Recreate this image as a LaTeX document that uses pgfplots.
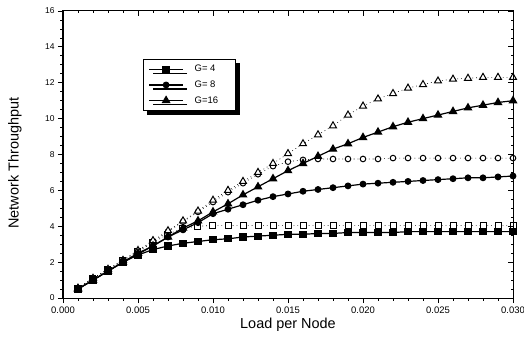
\documentclass[border=0pt]{standalone}
\usepackage{pgfplots}
\usepackage{pgfplotstable}
\pgfplotsset{compat=1.18}
\usepackage{fontspec}
\setmainfont{Liberation Sans}
\usetikzlibrary{shadows}

\pgfplotstableread{
x      gfa  goa   gfb  gob   gfc   goc
0.001  0.5  0.55  0.5  0.55  0.5   0.55
0.002  1.0  1.1   1.0  1.1   1.0   1.1
0.003  1.5  1.6   1.5  1.6   1.5   1.6
0.004  2.0  2.1   2.0  2.1   2.0   2.1
0.005  2.4  2.6   2.45 2.6   2.5   2.65
0.006  2.7  3.1   2.9  3.15  2.9   3.2
0.007  2.9  3.55  3.4  3.7   3.4   3.75
0.008  3.05 3.9   3.8  4.25  3.9   4.3
0.009  3.15 4.0   4.2  4.8   4.3   4.85
0.010  3.25 4.05  4.7  5.35  4.8   5.45
0.011  3.3  4.05  4.95 5.9   5.25  6.0
0.012  3.4  4.05  5.2  6.4   5.75  6.5
0.013  3.45 4.05  5.45 6.9   6.2   7.0
0.014  3.5  4.05  5.65 7.35  6.65  7.5
0.015  3.55 4.05  5.8  7.6   7.1   8.05
0.016  3.55 4.05  5.95 7.7   7.5   8.6
0.017  3.6  4.05  6.05 7.75  7.9   9.1
0.018  3.6  4.05  6.15 7.75  8.3   9.6
0.019  3.65 4.05  6.25 7.75  8.6   10.2
0.020  3.65 4.05  6.35 7.75  8.95  10.7
0.021  3.65 4.05  6.4  7.75  9.25  11.1
0.022  3.65 4.05  6.45 7.8   9.55  11.4
0.023  3.7  4.05  6.5  7.8   9.8   11.7
0.024  3.7  4.05  6.55 7.8   10.0  11.9
0.025  3.7  4.05  6.6  7.8   10.2  12.1
0.026  3.7  4.05  6.65 7.8   10.4  12.2
0.027  3.7  4.05  6.7  7.8   10.6  12.25
0.028  3.7  4.05  6.7  7.8   10.75 12.3
0.029  3.7  4.05  6.75 7.8   10.9  12.3
0.030  3.7  4.05  6.8  7.8   11.0  12.3
}\data

\begin{document}
\begin{tikzpicture}
\useasboundingbox (-63bp,-44bp) rectangle (461bp,298bp);
\pgfplotsset{
  myaxis/.style={
    scale only axis, width=450bp, height=287bp,
    xmin=0, xmax=0.030, ymin=0, ymax=16,
    xtick={0,0.005,...,0.030}, ytick={0,2,...,16},
    minor x tick num=4, minor y tick num=3,
    major tick length=5bp, minor tick length=2.5bp,
    axis line style={line width=1bp},
    every tick/.style={black, line width=0.8bp},
  }
}
\begin{axis}[myaxis,
  tick align=outside, xtick pos=bottom, ytick pos=left,
  scaled x ticks=false,
  /pgf/number format/assume math mode=true,
  xticklabel style={font=\fontsize{9.5}{10}\selectfont, /pgf/number format/.cd, fixed, fixed zerofill, precision=3},
  yticklabel style={font=\fontsize{8.5}{10}\selectfont},
  xlabel={Load per Node}, ylabel={Network Throughput},
  label style={font=\fontsize{14.5}{16}\selectfont},
  xlabel style={at={(axis description cs:0.5,0)}, anchor=center, yshift=-27bp},
  ylabel style={at={(axis description cs:-0.1067,0.47)}, anchor=center},
  legend style={at={(0.178,0.833)}, anchor=north west, draw=black, line width=0.8bp,
    font=\fontsize{9.5}{10}\selectfont, fill=white,
    drop shadow={shadow xshift=4bp, shadow yshift=-4bp, fill=black, opacity=1},
    inner xsep=5bp, inner ysep=4bp, row sep=3.5bp},
  legend cell align=left,
  legend image code/.code={\draw[mark repeat=2,mark phase=2,#1] plot coordinates {(0bp,0bp) (17bp,0bp) (34bp,0bp)};},
]
\addplot[black, line width=0.6bp, dash pattern=on 0.8bp off 3bp, mark=square*, mark size=3bp, mark options={solid, fill=white, line width=1bp}, forget plot] table[x=x,y=goa] {\data};
\addplot[black, line width=0.6bp, dash pattern=on 0.8bp off 3bp, mark=*, mark size=2.8bp, mark options={solid, fill=white, line width=1bp}, forget plot] table[x=x,y=gob] {\data};
\addplot[black, line width=0.6bp, dash pattern=on 0.8bp off 3bp, mark=triangle*, mark size=4bp, mark options={solid, fill=white, line width=1bp}, forget plot] table[x=x,y=goc] {\data};
\addplot[black, line width=1.2bp, mark=square*, mark size=3bp, mark options={solid, fill=black}] table[x=x,y=gfa] {\data};
\addlegendentry{\hspace{9bp}\makebox[34bp][l]{G= 4}}
\addplot[black, line width=1.2bp, mark=*, mark size=2.8bp, mark options={solid, fill=black}] table[x=x,y=gfb] {\data};
\addlegendentry{\hspace{9bp}\makebox[34bp][l]{G= 8}}
\addplot[black, line width=1.2bp, mark=triangle*, mark size=4bp, mark options={solid, fill=black}] table[x=x,y=gfc] {\data};
\addlegendentry{\hspace{9bp}\makebox[34bp][l]{G=16}}
\end{axis}
\begin{axis}[myaxis, tick align=inside, xtick pos=top, ytick pos=right,
  xticklabels={}, yticklabels={}]
\end{axis}
\end{tikzpicture}
\end{document}
